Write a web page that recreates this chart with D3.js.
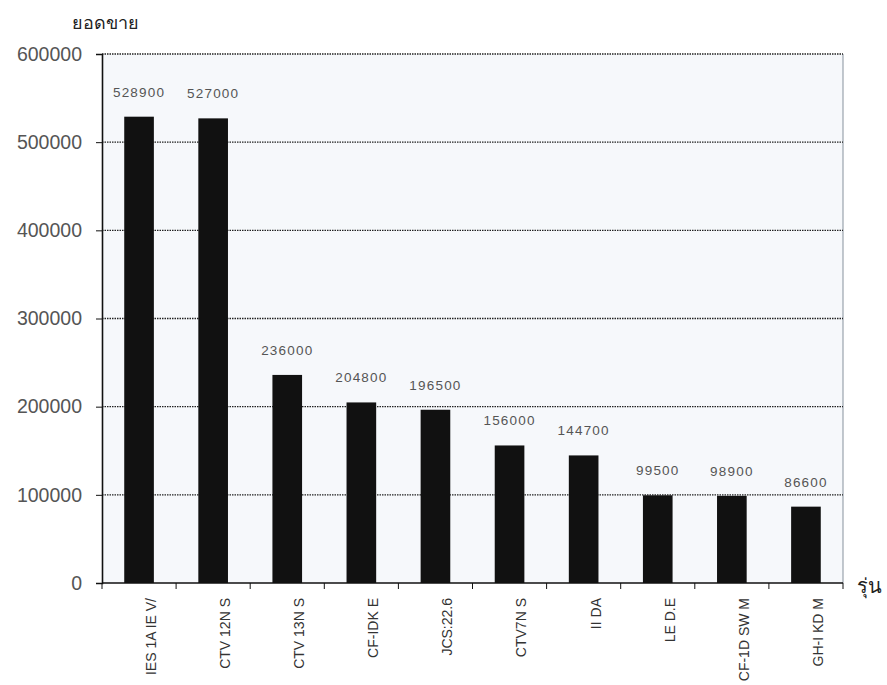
<!DOCTYPE html>
<html>
<head>
<meta charset="utf-8">
<script src="https://cdn.jsdelivr.net/npm/d3@7"></script>
<style>
  html, body { margin: 0; padding: 0; background: #fff; }
  svg { display: block; }
</style>
</head>
<body>
<div id="chart"></div>
<script>
// Sales per model
const models = ["IES 1A IE V/", "CTV 12N S", "CTV 13N S", "CF-IDK E", "JCS:22.6",
                "CTV7N S", "II DA", "LE D.E", "CF-1D SW M", "GH-I KD M"];
const sales = [528900, 527000, 236000, 204800, 196500, 156000, 144700, 99500, 98900, 86600];
const yTicks = [0, 100000, 200000, 300000, 400000, 500000, 600000];

const W = 887, H = 685;
const margin = { left: 102, right: 44, top: 54, bottom: 102 };
const FONT = "'Liberation Sans', Arial, sans-serif";

const svg = d3.select("#chart").append("svg")
  .attr("width", W).attr("height", H)
  .style("font-family", FONT);

const x = d3.scaleBand()
  .domain(models)
  .range([margin.left, W - margin.right])
  .paddingInner(0.6).paddingOuter(0.3);

const y = d3.scaleLinear()
  .domain([0, 600000])
  .range([H - margin.bottom, margin.top]);

// plot background
svg.append("rect")
  .attr("x", margin.left).attr("y", margin.top)
  .attr("width", W - margin.right - margin.left)
  .attr("height", H - margin.bottom - margin.top)
  .attr("fill", "#f6f8fb");

// right border
svg.append("line")
  .attr("x1", W - margin.right).attr("x2", W - margin.right)
  .attr("y1", margin.top).attr("y2", H - margin.bottom)
  .attr("stroke", "#9aa3ad").attr("stroke-width", 1.2);

// dotted gridlines
svg.append("g").selectAll("line")
  .data(yTicks.filter(d => d > 0))
  .join("line")
  .attr("x1", margin.left).attr("x2", W - margin.right)
  .attr("y1", d => y(d)).attr("y2", d => y(d))
  .attr("stroke", "#222").attr("stroke-width", 1.3)
  .attr("stroke-dasharray", "1.5,1");

// bars
svg.append("g").selectAll("rect")
  .data(sales)
  .join("rect")
  .attr("x", (d, i) => x(models[i]))
  .attr("width", x.bandwidth())
  .attr("y", d => y(d))
  .attr("height", d => y(0) - y(d))
  .attr("fill", "#111");

// value labels
svg.append("g").selectAll("text")
  .data(sales)
  .join("text")
  .attr("x", (d, i) => x(models[i]) + x.bandwidth() / 2)
  .attr("y", d => y(d) - 20)
  .attr("text-anchor", "middle")
  .attr("font-size", 13.5)
  .attr("letter-spacing", 1.2)
  .attr("fill", "#555")
  .text(d => d);

// y axis
const yAxis = svg.append("g")
  .attr("transform", `translate(${margin.left},0)`)
  .call(d3.axisLeft(y).tickValues(yTicks).tickSize(6).tickPadding(14).tickFormat(d3.format("d")));
yAxis.select(".domain").attr("stroke", "#111").attr("stroke-width", 1.6);
yAxis.selectAll(".tick line").attr("stroke", "#111");
yAxis.selectAll("text").attr("font-size", 19.5).attr("fill", "#555")
  .attr("font-weight", "normal")
  .style("font-family", FONT);

// x axis with ticks at category boundaries
const xg = svg.append("g").attr("transform", `translate(0,${H - margin.bottom})`);
xg.append("line")
  .attr("x1", margin.left).attr("x2", W - margin.right)
  .attr("stroke", "#111").attr("stroke-width", 1.6);
const step = x.step();
const bounds = models.map(m => x(m) - step * x.paddingInner() / 2).concat([W - margin.right]);
xg.selectAll("line.tk")
  .data(bounds)
  .join("line").attr("class", "tk")
  .attr("x1", d => d).attr("x2", d => d)
  .attr("y1", 0).attr("y2", 6)
  .attr("stroke", "#111");

xg.selectAll("text")
  .data(models)
  .join("text")
  .attr("transform", d => `translate(${x(d) + x.bandwidth() / 2 + 12},15) rotate(-90)`)
  .attr("text-anchor", "end")
  .attr("dy", "0.35em")
  .attr("font-size", 14)
  .attr("fill", "#333")
  .text(d => d);

// axis titles
svg.append("text")
  .attr("x", 105).attr("y", 29)
  .attr("text-anchor", "middle")
  .attr("font-size", 18)
  .attr("fill", "#222")
  .style("font-family", "'Noto Sans', 'DejaVu Sans', sans-serif")
  .text("ยอดขาย");

svg.append("text")
  .attr("x", 869).attr("y", 593)
  .attr("text-anchor", "middle")
  .attr("font-size", 20)
  .attr("fill", "#222")
  .style("font-family", "'Noto Sans', 'DejaVu Sans', sans-serif")
  .text("รุ่น");
</script>
</body>
</html>
